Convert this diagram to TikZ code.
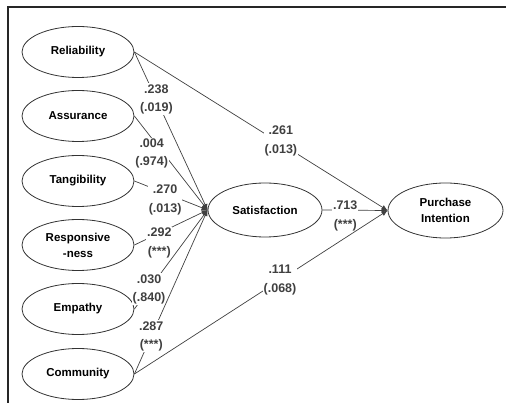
\documentclass[tikz,border=0pt]{standalone}
\usepackage{fontspec}
\setmainfont{Liberation Sans}
\usetikzlibrary{arrows.meta, positioning, shapes.geometric}
\definecolor{linegray}{HTML}{404040}

\begin{document}
\begin{tikzpicture}[x=1pt, y=-1pt,
  factor/.style={ellipse, draw=black!80, line width=0.8pt, minimum width=112pt,
    minimum height=51pt, inner sep=0pt, align=center,
    font=\fontsize{11.5}{16}\selectfont\bfseries},
  link/.style={linegray, line width=0.7pt, -{Latex[length=6pt,width=5pt]}},
  coef/.style={fill=white, inner sep=1pt, align=center,
    font=\fontsize{12.5}{18.5}\selectfont\bfseries}]
  \useasboundingbox (0,0) rectangle (506,403);
  % Frame
  \draw[line width=2pt, black!85] (7.5,403) -- (7.5,7.5) -- (506,7.5);
  % Quality factors
  \foreach \y/\n/\t in {52/rel/Reliability, 116/ass/Assurance, 181/tan/Tangibility,
      245/res/{Responsive\\-ness}, 309/emp/Empathy, 374/com/Community}
    \node[factor] (\n) at (78,\y) {\t};
  % Mediator and outcome
  \node[factor, minimum width=114pt, minimum height=54pt] (sat) at (265,210) {Satisfaction};
  \node[factor, minimum width=115pt, minimum height=55pt] (pi) at (445.5,210.5) {Purchase\\Intention};
  % Paths to satisfaction
  \draw[link] (rel.east) -- node[coef, pos=0.3] {.238\\(.019)} (sat.west);
  \draw[link] (ass.east) -- node[coef, pos=0.4, xshift=-12pt] {.004\\(.974)} (sat.west);
  \draw[link] (tan.east) -- node[coef, pos=0.42, yshift=-7pt] {.270\\(.013)} (sat.west);
  \draw[link] (res.east) -- node[coef, pos=0.34, yshift=-10pt] {.292\\(***)} (sat.west);
  \draw[link] (emp.east) -- node[coef, pos=0.2] {.030\\(.840)} (sat.west);
  \draw[link] (com.east) -- node[coef, pos=0.23] {.287\\(***)} (sat.west);
  % Paths to purchase intention
  \draw[link] (rel.east) -- node[coef, pos=0.5625, xshift=4pt] {.261\\(.013)} (pi.west);
  \draw[link] (sat.east) -- node[coef, pos=0.35, yshift=-6pt] {.713\\(***)} (pi.west);
  \draw[link] (com.east) -- node[coef, pos=0.575] {.111\\(.068)} (pi.west);
\end{tikzpicture}
\end{document}
